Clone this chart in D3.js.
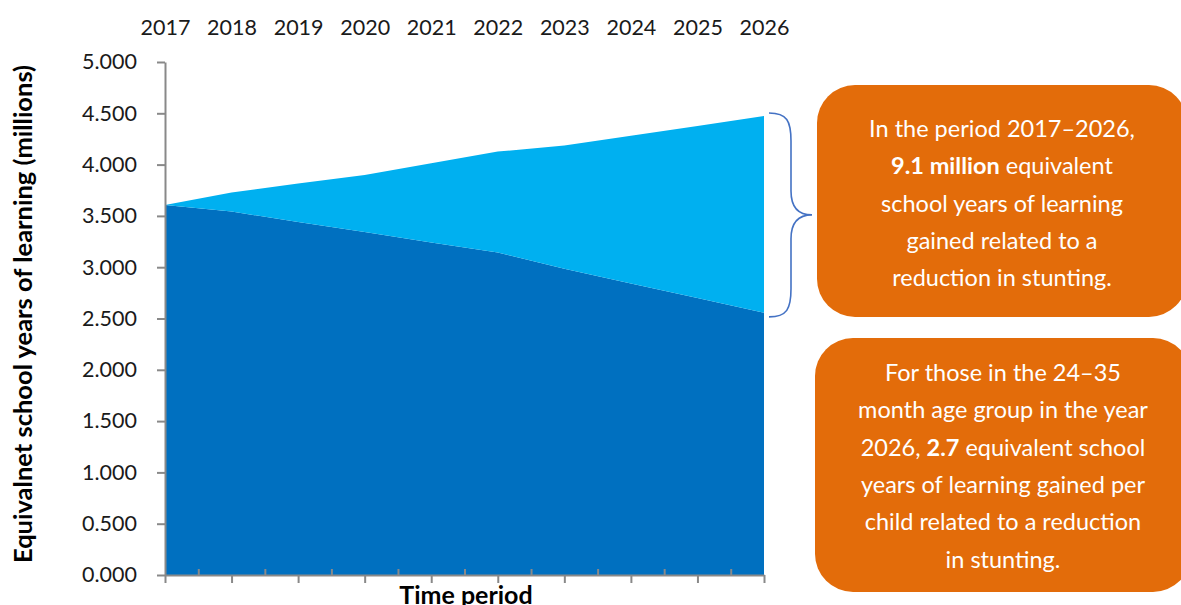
<!DOCTYPE html>
<html>
<head>
<meta charset="utf-8">
<script src="https://cdn.jsdelivr.net/npm/d3@7/dist/d3.min.js"></script>
<style>
  html, body { margin: 0; padding: 0; background: #fff; }
  svg { display: block; font-family: Lato, "Open Sans", sans-serif; }
</style>
</head>
<body>
<svg id="chart" width="1181" height="605"></svg>
<script>
// Years on the horizontal axis
const years = [2017, 2018, 2019, 2020, 2021, 2022, 2023, 2024, 2025, 2026];
// Equivalent school years of learning without stunting reduction (millions)
const baseLearning = [3.607, 3.542, 3.440, 3.342, 3.240, 3.143, 2.984, 2.841, 2.700, 2.555];
// Additional learning gained through reduced stunting (millions)
const gainedLearning = [0.000, 0.185, 0.375, 0.557, 0.773, 0.984, 1.201, 1.441, 1.677, 1.919];
// Y axis ticks
const yTicks = [0, 0.5, 1, 1.5, 2, 2.5, 3, 3.5, 4, 4.5, 5];

const seriesKeys = ["base", "gained"];
const seriesColors = { base: "#0070C0", gained: "#00B0F0" };

const rows = years.map((yr, i) => ({ year: yr, base: baseLearning[i], gained: gainedLearning[i] }));

const svg = d3.select("#chart");
const plotLeft = 165, plotRight = 764, plotTop = 62, plotBottom = 575;
const axisColor = "#898989";

const x = d3.scalePoint().domain(years).range([plotLeft, plotRight]);
const xLin = d3.scaleLinear().domain([years[0], years[years.length - 1]]).range([plotLeft, plotRight]);
const y = d3.scaleLinear().domain([0, 5]).range([plotBottom, plotTop]);

// Stacked areas
const stacked = d3.stack().keys(seriesKeys)(rows);
const area = d3.area()
  .x(d => x(d.data.year))
  .y0(d => y(d[0]))
  .y1(d => y(d[1]));

svg.append("g").selectAll("path")
  .data(stacked)
  .join("path")
  .attr("d", area)
  .attr("fill", d => seriesColors[d.key]);

// Left axis
const yAxis = svg.append("g")
  .attr("transform", `translate(${plotLeft},0)`)
  .call(d3.axisLeft(y).tickValues(yTicks).tickFormat(d3.format(".3f")).tickSize(8).tickSizeOuter(0).tickPadding(20));
yAxis.selectAll("path, line").attr("stroke", axisColor).attr("stroke-width", 2);
yAxis.selectAll("text").attr("font-size", 21.5).attr("fill", "#1a1a1a").attr("font-family", "Lato, sans-serif");

// Bottom axis: major ticks at years, minor ticks in between
const xAxisMajor = svg.append("g")
  .attr("transform", `translate(0,${plotBottom})`)
  .call(d3.axisBottom(x).tickSize(8).tickSizeOuter(0).tickFormat(""));
xAxisMajor.selectAll("path, line").attr("stroke", axisColor).attr("stroke-width", 2);

const midYears = years.slice(0, -1).map(v => v + 0.5);
const xAxisMinor = svg.append("g")
  .attr("transform", `translate(0,${plotBottom})`)
  .call(d3.axisBottom(xLin).tickValues(midYears).tickSize(-6).tickFormat(""));
xAxisMinor.select("path").remove();
xAxisMinor.selectAll("line").attr("stroke", axisColor).attr("stroke-width", 2);

// Year labels along the top
const xTop = svg.append("g")
  .attr("transform", `translate(0,${plotTop})`)
  .call(d3.axisTop(x).tickSize(0).tickPadding(27).tickFormat(d3.format("d")));
xTop.select("path").remove();
xTop.selectAll("text").attr("font-size", 21.5).attr("fill", "#1a1a1a").attr("font-family", "Lato, sans-serif");

// Axis titles
svg.append("text")
  .attr("transform", `translate(32,314) rotate(-90)`)
  .attr("text-anchor", "middle")
  .attr("font-size", 25.5)
  .attr("font-weight", "bold")
  .attr("fill", "#000")
  .text("Equivalnet school years of learning (millions)");

svg.append("text")
  .attr("x", 466).attr("y", 604)
  .attr("text-anchor", "middle")
  .attr("font-size", 25)
  .attr("font-weight", "bold")
  .attr("fill", "#000")
  .text("Time period");

// Curly brace spanning the gained portion in the final year
const last = rows[rows.length - 1];
const bTop = y(last.base + last.gained) - 3;
const bBot = y(last.base) + 4;
const bMid = (bTop + bBot) / 2;
const bx0 = plotRight + 5, bx1 = plotRight + 27, bx2 = plotRight + 48;
const brace = d3.path();
brace.moveTo(bx0, bTop);
brace.bezierCurveTo(bx1 - 4, bTop, bx1, bTop + 8, bx1, bTop + 28);
brace.lineTo(bx1, bMid - 24);
brace.bezierCurveTo(bx1, bMid - 6, bx2 - 12, bMid, bx2, bMid);
brace.bezierCurveTo(bx2 - 12, bMid, bx1, bMid + 6, bx1, bMid + 24);
brace.lineTo(bx1, bBot - 28);
brace.bezierCurveTo(bx1, bBot - 8, bx1 - 4, bBot, bx0, bBot);
svg.append("path")
  .attr("d", brace.toString())
  .attr("fill", "none")
  .attr("stroke", "#4472C4")
  .attr("stroke-width", 1.6);

// Callout boxes
const callouts = [
  { x0: 817, y0: 85, x1: 1187, y1: 317, firstBaseline: 137, step: 37.3,
    lines: [
      [["In the period 2017–2026,", false]],
      [["9.1 million", true], [" equivalent", false]],
      [["school years of learning", false]],
      [["gained related to a", false]],
      [["reduction in stunting.", false]]
    ] },
  { x0: 815, y0: 338, x1: 1191, y1: 592, firstBaseline: 381, step: 37.3,
    lines: [
      [["For those in the 24–35", false]],
      [["month age group in the year", false]],
      [["2026, ", false], ["2.7", true], [" equivalent school", false]],
      [["years of learning gained per", false]],
      [["child related to a reduction", false]],
      [["in stunting.", false]]
    ] }
];

callouts.forEach(c => {
  svg.append("rect")
    .attr("x", c.x0).attr("y", c.y0)
    .attr("width", c.x1 - c.x0).attr("height", c.y1 - c.y0)
    .attr("rx", 38).attr("ry", 38)
    .attr("fill", "#E36C0A");
  const cx = (c.x0 + c.x1) / 2;
  c.lines.forEach((parts, i) => {
    const t = svg.append("text")
      .attr("x", cx).attr("y", c.firstBaseline + i * c.step)
      .attr("text-anchor", "middle")
      .attr("font-size", 23.5)
      .attr("fill", "#fff");
    parts.forEach(([s, b]) => {
      t.append("tspan").attr("font-weight", b ? "bold" : "normal").text(s);
    });
  });
});
</script>
</body>
</html>
